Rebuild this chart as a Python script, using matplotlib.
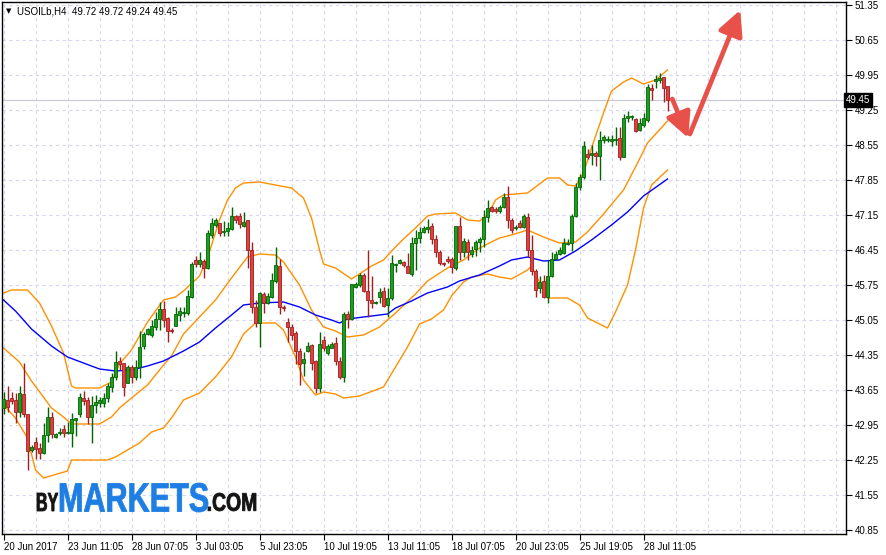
import matplotlib.pyplot as plt
from matplotlib.textpath import TextPath
from matplotlib.patches import PathPatch
from matplotlib.font_manager import FontProperties
from matplotlib.transforms import Affine2D

# H4 candles, USOILb
opens = [43.29, 43.45, 43.49, 43.45, 43.21, 43.57, 43.17, 42.45, 42.61, 42.49,
         42.39, 42.75, 43.11, 42.71, 42.79, 42.87, 42.79, 42.79, 43.05, 43.17,
         43.49, 43.45, 43.11, 43.35, 43.39, 43.39, 43.49, 43.71, 43.91, 44.23,
         44.19, 43.79, 44.11, 43.91, 44.11, 44.53, 44.77, 44.75, 44.91, 45.07,
         45.27, 45.09, 44.85, 44.93, 45.15, 45.19, 45.19, 45.51, 46.25, 46.17,
         46.23, 46.09, 46.75, 46.95, 46.99, 46.81, 46.83, 46.87, 47.13, 47.13,
         46.93, 47.05, 46.45, 45.31, 44.99, 45.57, 45.39, 45.51, 45.83, 46.13,
         45.31, 45.01, 44.91, 44.79, 44.43, 44.19, 44.43, 44.55, 44.23, 43.69,
         44.65, 44.39, 44.49, 44.59, 44.23, 43.91, 45.17, 45.07, 45.71, 45.75,
         45.95, 45.63, 45.45, 45.39, 45.51, 45.63, 45.35, 45.49, 46.15, 46.19,
         46.21, 46.13, 45.97, 46.59, 46.69, 46.81, 46.87, 46.93, 46.67, 46.41,
         46.19, 46.27, 46.27, 46.09, 46.93, 46.41, 46.61, 46.37, 46.47, 46.61,
         46.67, 47.11, 47.31, 47.27, 47.23, 47.31, 47.51, 47.05, 46.89, 46.99,
         46.91, 47.11, 46.45, 46.03, 45.69, 45.83, 45.51, 45.93, 46.27, 46.37,
         46.39, 46.57, 46.59, 47.13, 47.71, 47.91, 48.37, 48.35, 48.39, 48.33,
         48.65, 48.65, 48.63, 48.65, 48.69, 48.31, 49.09, 49.11, 49.07, 48.85,
         48.95, 49.05, 49.69, 49.83, 49.85, 49.91, 49.72]
highs = [43.61, 43.73, 43.61, 43.59, 43.73, 44.19, 43.17, 42.55, 42.71, 42.59,
         42.99, 43.31, 43.21, 42.79, 42.89, 42.95, 43.01, 43.19, 43.09, 43.59,
         43.63, 43.51, 43.53, 43.55, 43.51, 43.59, 43.79, 43.99, 44.43, 44.31,
         44.19, 44.15, 44.15, 44.25, 44.83, 44.81, 44.89, 45.05, 45.21, 45.41,
         45.43, 45.11, 44.89, 45.31, 45.31, 45.31, 45.65, 46.21, 46.33, 46.41,
         46.27, 46.85, 47.09, 47.09, 46.99, 47.03, 47.01, 47.31, 47.15, 47.19,
         47.21, 47.05, 46.61, 45.45, 45.61, 45.61, 45.59, 45.99, 46.51, 46.27,
         45.35, 45.09, 44.97, 44.83, 44.49, 44.41, 44.61, 44.57, 44.25, 44.81,
         44.73, 44.57, 44.61, 44.71, 44.31, 45.21, 45.23, 45.77, 45.81, 45.99,
         45.99, 46.45, 45.93, 45.43, 45.69, 45.71, 45.69, 46.35, 46.19, 46.27,
         46.23, 46.39, 46.71, 46.85, 46.91, 46.93, 47.07, 46.99, 46.75, 46.45,
         46.21, 46.33, 46.31, 46.93, 47.11, 46.69, 46.67, 46.53, 46.65, 46.71,
         47.25, 47.45, 47.33, 47.31, 47.35, 47.59, 47.73, 47.09, 46.95, 47.05,
         47.17, 47.19, 46.75, 46.07, 45.93, 45.95, 46.25, 46.41, 46.43, 46.51,
         46.69, 46.67, 47.17, 47.79, 47.97, 48.63, 48.47, 48.55, 48.43, 48.83,
         48.75, 48.73, 48.75, 48.91, 48.91, 49.17, 49.23, 49.15, 49.09, 49.09,
         49.19, 49.77, 49.77, 49.95, 49.99, 49.91, 49.72]
lows = [43.17, 43.21, 43.37, 42.99, 43.11, 43.11, 42.05, 42.41, 42.27, 42.27,
        42.37, 42.61, 42.69, 42.69, 42.75, 42.71, 42.77, 42.51, 42.73, 43.11,
        43.35, 42.97, 42.59, 43.19, 43.31, 43.31, 43.41, 43.61, 43.85, 44.05,
        43.53, 43.79, 43.79, 43.85, 43.89, 44.47, 44.75, 44.71, 44.85, 44.85,
        44.91, 44.61, 44.79, 44.93, 45.03, 45.11, 45.15, 45.49, 46.11, 46.11,
        45.89, 46.07, 46.69, 46.91, 46.73, 46.73, 46.73, 46.85, 46.99, 46.89,
        46.91, 46.09, 45.19, 44.91, 44.51, 45.19, 45.37, 45.49, 45.79, 45.17,
        45.23, 44.61, 44.65, 44.17, 43.75, 43.93, 44.41, 44.05, 43.59, 43.61,
        44.43, 44.35, 44.49, 44.15, 43.87, 43.81, 44.89, 45.05, 45.69, 45.71,
        45.61, 45.11, 45.29, 45.37, 45.39, 45.31, 45.11, 45.45, 46.01, 46.17,
        46.11, 45.99, 45.93, 46.05, 46.59, 46.79, 46.79, 46.57, 46.31, 46.15,
        46.13, 46.19, 45.99, 46.05, 46.25, 46.31, 46.25, 46.31, 46.33, 46.41,
        46.51, 47.01, 47.21, 47.19, 47.19, 47.29, 46.89, 46.79, 46.85, 46.89,
        46.89, 46.31, 45.95, 45.51, 45.59, 45.49, 45.39, 45.91, 46.25, 46.35,
        46.37, 46.55, 46.43, 47.11, 47.65, 47.87, 48.27, 48.15, 48.13, 47.85,
        48.59, 48.61, 48.53, 48.55, 48.25, 48.31, 49.01, 49.05, 48.81, 48.83,
        48.91, 49.01, 49.45, 49.69, 49.79, 49.41, 49.24]
closes = [43.47, 43.31, 43.43, 43.21, 43.59, 43.17, 42.43, 42.51, 42.47, 42.39,
          42.75, 43.11, 42.77, 42.77, 42.81, 42.79, 42.81, 43.07, 43.09, 43.51,
          43.43, 43.11, 43.35, 43.41, 43.45, 43.49, 43.73, 43.91, 44.21, 44.17,
          43.71, 44.11, 43.91, 44.11, 44.51, 44.77, 44.87, 44.93, 45.07, 45.27,
          45.05, 44.83, 44.83, 45.17, 45.23, 45.21, 45.53, 46.17, 46.17, 46.25,
          46.09, 46.79, 46.99, 47.05, 46.79, 46.83, 46.89, 47.13, 47.05, 46.97,
          47.01, 46.45, 45.31, 44.99, 45.59, 45.39, 45.53, 45.85, 46.15, 45.31,
          45.29, 44.91, 44.75, 44.43, 44.17, 44.27, 44.53, 44.19, 43.69, 44.57,
          44.49, 44.53, 44.57, 44.23, 43.91, 45.17, 45.07, 45.77, 45.77, 45.95,
          45.63, 45.45, 45.39, 45.41, 45.61, 45.33, 45.49, 46.19, 46.17, 46.25,
          46.15, 45.99, 46.59, 46.69, 46.81, 46.89, 46.91, 46.67, 46.41, 46.19,
          46.17, 46.23, 46.11, 46.93, 46.41, 46.63, 46.41, 46.45, 46.61, 46.67,
          47.11, 47.29, 47.23, 47.23, 47.31, 47.51, 47.05, 46.85, 46.91, 46.91,
          47.13, 46.45, 46.03, 45.65, 45.81, 45.51, 45.93, 46.27, 46.37, 46.45,
          46.59, 46.59, 47.13, 47.71, 47.91, 48.53, 48.31, 48.39, 48.33, 48.65,
          48.71, 48.67, 48.67, 48.67, 48.31, 49.09, 49.13, 49.13, 48.83, 48.99,
          49.09, 49.71, 49.65, 49.87, 49.89, 49.69, 49.45]

# Bollinger bands and moving average at these bars
upper_bars = [0, 2, 6, 9, 12, 15, 17, 18, 24, 27, 29, 32, 36, 40, 43, 45, 49, 51,
              54, 56, 58, 60, 64, 68, 72, 75, 77, 79, 80, 83, 87, 89, 92, 95, 98,
              100, 103, 106, 108, 113, 116, 119, 121, 123, 125, 131, 136, 139,
              141, 143, 145, 147, 150, 152, 155, 157, 160, 163, 166]
bb_upper = [45.59, 45.65, 45.65, 45.39, 44.93, 44.39, 43.73, 43.69, 43.69, 43.81,
            44.17, 44.45, 45.01, 45.45, 45.51, 45.63, 45.93, 46.29, 47.05, 47.45,
            47.69, 47.79, 47.81, 47.75, 47.69, 47.49, 47.09, 46.45, 46.17, 46.09,
            45.87, 45.97, 46.13, 46.25, 46.51, 46.67, 46.89, 47.13, 47.17, 47.19,
            47.05, 47.03, 47.15, 47.45, 47.55, 47.59, 47.89, 47.89, 47.75, 47.73,
            47.99, 48.49, 49.19, 49.63, 49.81, 49.89, 49.77, 49.85, 50.05]
mid_bars = [0, 4, 7, 12, 15, 17, 24, 27, 29, 32, 36, 40, 42, 45, 53, 57, 61, 64,
            68, 70, 74, 77, 80, 83, 86, 90, 94, 98, 103, 106, 111, 115, 119, 124,
            127, 131, 135, 139, 143, 146, 150, 155, 158, 161, 166]
bb_mid = [44.49, 44.21, 43.83, 43.29, 43.11, 42.97, 42.97, 43.11, 43.29, 43.49,
          43.75, 44.15, 44.33, 44.77, 45.45, 45.89, 46.31, 46.37, 46.35, 46.21,
          45.75, 45.25, 44.91, 44.83, 44.71, 44.75, 44.91, 45.19, 45.57, 45.83,
          46.09, 46.25, 46.49, 46.69, 46.75, 46.85, 46.71, 46.59, 46.61, 46.81,
          47.17, 47.65, 48.11, 48.59, 49.03]
lower_bars = [0, 3, 6, 8, 10, 16, 17, 26, 28, 31, 34, 37, 40, 42, 45, 49, 53, 57,
              60, 63, 68, 70, 73, 75, 78, 80, 83, 85, 89, 93, 95, 98, 101, 104,
              107, 110, 112, 115, 117, 121, 124, 127, 131, 132, 136, 141, 144,
              146, 151, 153, 156, 158, 160, 162, 166]
bb_lower = [43.35, 43.09, 42.69, 42.05, 41.89, 42.03, 42.25, 42.25, 42.31, 42.45,
            42.59, 42.81, 42.89, 43.09, 43.45, 43.59, 43.91, 44.31, 44.77, 44.99,
            44.99, 44.85, 44.31, 43.85, 43.55, 43.61, 43.57, 43.49, 43.53, 43.65,
            43.71, 44.11, 44.51, 44.97, 45.07, 45.25, 45.53, 45.81, 45.91, 45.97,
            45.91, 45.87, 46.05, 46.13, 45.49, 45.49, 45.35, 45.09, 44.89, 45.21,
            45.75, 46.45, 47.29, 47.75, 48.05]
ma_bars = [0, 3, 7, 12, 16, 20, 24, 28, 32, 36, 40, 45, 49, 53, 57, 60, 64, 70,
           74, 78, 82, 84, 86, 90, 96, 98, 102, 106, 111, 114, 119, 124, 127,
           131, 135, 139, 143, 147, 152, 156, 160, 166]
ma_blue = [45.45, 45.23, 44.87, 44.53, 44.31, 44.19, 44.07, 44.03, 44.05, 44.13,
           44.23, 44.43, 44.61, 44.89, 45.15, 45.35, 45.39, 45.41, 45.31, 45.15,
           45.05, 44.99, 45.07, 45.11, 45.17, 45.29, 45.43, 45.59, 45.71, 45.83,
           45.95, 46.13, 46.25, 46.31, 46.23, 46.25, 46.43, 46.65, 46.95, 47.21,
           47.53, 47.87]

price_ticks = [40.85, 41.55, 42.25, 42.95, 43.65, 44.35, 45.05, 45.75, 46.45,
               47.15, 47.85, 48.55, 49.25, 49.95, 50.65, 51.35]
time_ticks = [0, 16, 32, 48, 64, 80, 96, 112, 128, 144, 160]
time_labels = ["20 Jun 2017", "23 Jun 11:05", "28 Jun 07:05", "3 Jul 03:05",
               "5 Jul 23:05", "10 Jul 19:05", "13 Jul 11:05", "18 Jul 07:05",
               "20 Jul 23:05", "25 Jul 19:05", "28 Jul 11:05"]
last_price = 49.45

# the drawn forecast arrows (bar, price)
arrow_down = [(167.2, 49.47), (171.2, 48.69)]
arrow_up = [(171.6, 48.77), (184.2, 51.25)]

UI_FONT = ["Liberation Sans", "DejaVu Sans"]


def logo_text(fig, s, x0, y0, w, h, color):
    tp = TextPath((0, 0), s, size=10,
                  prop=FontProperties(family="Liberation Sans", weight="bold"))
    ext = tp.get_extents()
    tr = (Affine2D().translate(-ext.x0, -ext.y0)
          .scale(w / ext.width / 886, h / ext.height / 555)
          .translate(x0 / 886, 1 - y0 / 555))
    fig.add_artist(PathPatch(tr.transform_path(tp), facecolor=color,
                             edgecolor=color, lw=0.6, transform=fig.transFigure))


def main():
    plt.rcParams["font.family"] = UI_FONT
    fig = plt.figure(figsize=(8.86, 5.55), dpi=100)
    ax = fig.add_axes([2 / 886, 1 - 534 / 555, 844 / 886, 532 / 555])
    ax.set_xlim(-0.375, 210.625)
    ax.set_ylim(40.77, 51.41)

    # grid
    for b in range(0, 210, 8):
        ax.axvline(b, color="#d6d6f0", lw=0.8, ls=(0, (3, 3)), zorder=0)
    for p in price_ticks:
        ax.axhline(p, color="#d6d6f0", lw=0.8, ls=(0, (3, 3)), zorder=0)
    ax.axhline(last_price, color="#c8c8d8", lw=0.8, zorder=0.5)

    # indicators
    ax.plot(upper_bars, bb_upper, color="#ff9000", lw=1, zorder=1)
    ax.plot(mid_bars, bb_mid, color="#ff9000", lw=1, zorder=1)
    ax.plot(lower_bars, bb_lower, color="#ff9000", lw=1, zorder=1)
    ax.plot(ma_bars, ma_blue, color="#0000ff", lw=1, zorder=1)

    # candles
    for i, (o, h, l, c) in enumerate(zip(opens, highs, lows, closes)):
        up = c >= o
        wick = "#006400" if up else "#a01e1e"
        face = "#1e9e1e" if up else "#e24040"
        ax.vlines(i, l, h, color=wick, lw=1, zorder=2)
        body = max(abs(c - o), 0.02)
        ax.bar(i, body, bottom=min(o, c), width=0.72, color=face,
               edgecolor=wick, linewidth=0.6, zorder=3)

    # arrows
    for seg in (arrow_down, arrow_up):
        ax.annotate("", xy=seg[1], xytext=seg[0],
                    arrowprops=dict(arrowstyle="-|>,head_length=1.0,head_width=0.5",
                                    color="#e8504a", lw=3.4, mutation_scale=15,
                                    shrinkA=0, shrinkB=0))

    # axes styling
    ax.yaxis.tick_right()
    ax.set_yticks(price_ticks)
    ax.set_yticklabels([f"{p:.2f}" for p in price_ticks])
    ax.set_xticks(time_ticks)
    ax.set_xticklabels(time_labels)
    for lab in ax.get_xticklabels():
        lab.set_horizontalalignment("left")
    ax.tick_params(axis="both", labelsize=7, length=4, width=0.8,
                   colors="black")
    ax.tick_params(axis="x", pad=1.5)
    ax.tick_params(axis="y", pad=2)
    for s in ax.spines.values():
        s.set_linewidth(1)
        s.set_color("black")

    ax.text(1.0, last_price, f"{last_price:.2f}", transform=ax.get_yaxis_transform(),
            fontsize=7, color="white", va="center", ha="left",
            bbox=dict(boxstyle="square,pad=0.2", fc="black", ec="black"))

    fig.text(6 / 886, 1 - 11 / 555, "▼", fontsize=5, va="center",
             family="DejaVu Sans")
    fig.text(17 / 886, 1 - 11 / 555, "USOILb,H4  49.72 49.72 49.24 49.45",
             fontsize=7, va="center")

    logo_text(fig, "BY", 37, 511, 21, 18, "#141414")
    logo_text(fig, "MARKETS", 60, 512, 148, 29, "#1e7ee4")
    logo_text(fig, ".COM", 208, 511, 48, 18, "#141414")

    fig.savefig("out.png", dpi=100, facecolor="white")


if __name__ == "__main__":
    main()
